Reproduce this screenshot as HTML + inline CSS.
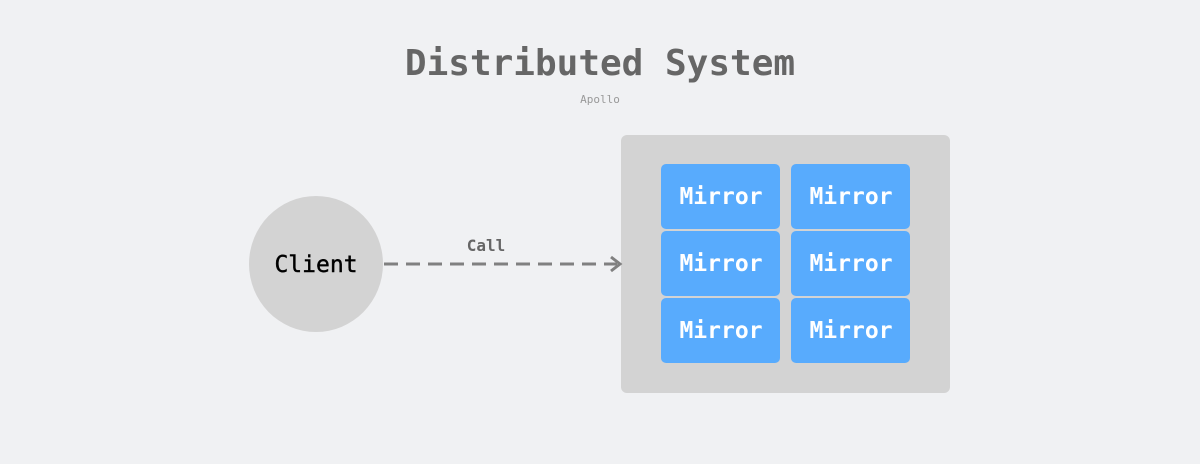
<!DOCTYPE html>
<html><head><style>body{margin:0;background:#f0f1f3;}</style></head><body>
<svg width="1200" height="464" xmlns="http://www.w3.org/2000/svg" style="display:block">
<rect width="1200" height="464" fill="#f0f1f3"/>
<text x="600" y="75" text-anchor="middle" font-family="'DejaVu Sans Mono','Liberation Mono',monospace" font-weight="bold" font-size="36" fill="#666">Distributed System</text>
<text x="600" y="103" text-anchor="middle" font-family="'DejaVu Sans Mono','Liberation Mono',monospace" font-size="11" fill="#999">Apollo</text>
<rect x="621" y="135" width="329" height="258" rx="6" fill="#d3d3d3"/>
<g fill="#58abfd">
<rect x="661" y="164" width="119" height="65" rx="5"/>
<rect x="791" y="164" width="119" height="65" rx="5"/>
<rect x="661" y="231" width="119" height="65" rx="5"/>
<rect x="791" y="231" width="119" height="65" rx="5"/>
<rect x="661" y="298" width="119" height="65" rx="5"/>
<rect x="791" y="298" width="119" height="65" rx="5"/>
</g>
<g font-family="'DejaVu Sans Mono','Liberation Mono',monospace" font-weight="bold" font-size="23" fill="#fff" text-anchor="middle">
<text x="721" y="204">Mirror</text><text x="851" y="204">Mirror</text>
<text x="721" y="271">Mirror</text><text x="851" y="271">Mirror</text>
<text x="721" y="338">Mirror</text><text x="851" y="338">Mirror</text>
</g>
<ellipse cx="316" cy="264" rx="67" ry="68" fill="#d3d3d3"/>
<text x="316" y="272" text-anchor="middle" font-family="'DejaVu Sans Mono','Liberation Mono',monospace" font-size="23" fill="#000" stroke="#000" stroke-width="0.4">Client</text>
<line x1="384" y1="264" x2="617" y2="264" stroke="#808080" stroke-width="3" stroke-dasharray="14,8"/>
<polyline points="611,257 620,264 611,271" fill="none" stroke="#808080" stroke-width="3"/>
<text x="486" y="251" text-anchor="middle" font-family="'DejaVu Sans Mono','Liberation Mono',monospace" font-weight="bold" font-size="16" fill="#666">Call</text>
</svg>
</body></html>
